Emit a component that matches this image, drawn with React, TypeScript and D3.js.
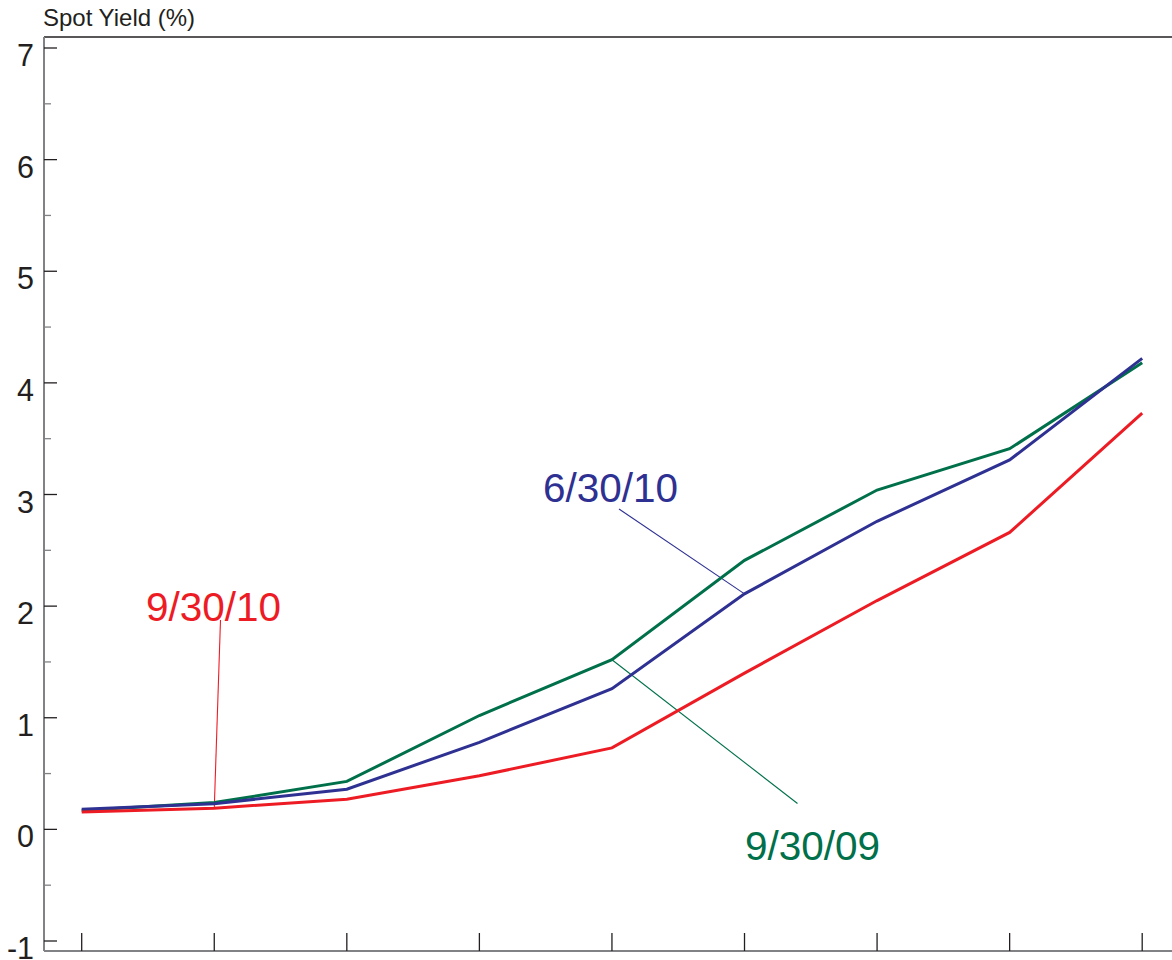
import React from "react";
import * as d3 from "d3";

// Maturity points (index positions along the x axis; no labels are printed)
const maturityIndex = [0, 1, 2, 3, 4, 5, 6, 7, 8];

// Spot yield curves (%)
const yields_9_30_09 = [0.17, 0.24, 0.43, 1.02, 1.52, 2.41, 3.04, 3.41, 4.18];
const yields_6_30_10 = [0.18, 0.23, 0.36, 0.78, 1.26, 2.11, 2.76, 3.31, 4.22];
const yields_9_30_10 = [0.155, 0.19, 0.27, 0.48, 0.73, 1.4, 2.05, 2.66, 3.73];

const yTickValues = [-1, 0, 1, 2, 3, 4, 5, 6, 7];
const yMinorValues = [-0.5, 0.5, 1.5, 2.5, 3.5, 4.5, 5.5, 6.5];

const seriesLabels = ["9/30/09", "6/30/10", "9/30/10"];
const seriesColors = ["#00704a", "#2e3192", "#ed1c24"];

// Label annotations: anchor on the curve (index) and text / leader start
const labelAnchorIndex = [4, 5, 1];
const labelTextPos = [
  { x: 745, y: 860, lx: 797.5, ly: 803.5 },
  { x: 543, y: 502, lx: 619, ly: 509 },
  { x: 146, y: 621, lx: 220.5, ly: 620 },
];

const W = 1172;
const H = 960;
const FONT = "'Liberation Sans', Arial, Helvetica, sans-serif";

export default function App() {
  const x = d3.scaleLinear().domain([0, 8]).range([81.7, 1142.2]);
  const y = d3.scaleLinear().domain([-1, 7]).range([941, 48]);
  const plotLeft = 44;
  const plotRight = 1172;
  const plotTop = 37;
  const axisY = 951;

  const line = d3
    .line<number>()
    .x((_, i) => x(maturityIndex[i]))
    .y((d) => y(d));

  const series = [yields_9_30_09, yields_6_30_10, yields_9_30_10];
  return (
    <svg
      width={W}
      height={H}
      style={{ position: "absolute", left: 0, top: 0, background: "#fff" }}
      fontFamily={FONT}
    >
      <rect x={0} y={0} width={W} height={H} fill="#fff" />
      {/* title */}
      <text x={43} y={26} fontSize={24} fill="#231f20">
        Spot Yield (%)
      </text>
      {/* top border */}
      <line x1={plotLeft} x2={plotRight} y1={plotTop} y2={plotTop} stroke="#231f20" strokeWidth={1.5} />
      {/* left axis */}
      <line x1={plotLeft} x2={plotLeft} y1={plotTop} y2={axisY} stroke="#808285" strokeWidth={2} />
      {/* bottom axis */}
      <line x1={plotLeft} x2={plotRight} y1={axisY} y2={axisY} stroke="#808285" strokeWidth={2} />
      {/* y major ticks and labels */}
      {yTickValues.map((v) => (
        <g key={"yt" + v}>
          <line x1={plotLeft} x2={57} y1={y(v)} y2={y(v)} stroke="#231f20" strokeWidth={1.3} />
          <text
            x={34}
            y={y(v) + 18}
            fontSize={30.5}
            textAnchor="end"
            fill="#231f20"
          >
            {v}
          </text>
        </g>
      ))}
      {yMinorValues.map((v) => (
        <line key={"ym" + v} x1={plotLeft} x2={51} y1={y(v)} y2={y(v)} stroke="#808285" strokeWidth={1.3} />
      ))}
      {/* x ticks */}
      {maturityIndex.map((i) => (
        <line key={"xt" + i} x1={x(i)} x2={x(i)} y1={933} y2={axisY} stroke="#231f20" strokeWidth={1.3} />
      ))}
      {/* leader lines */}
      {series.map((s, k) => {
        const ai = labelAnchorIndex[k];
        const p = labelTextPos[k];
        return (
          <line
            key={"ld" + k}
            x1={p.lx}
            y1={p.ly}
            x2={x(maturityIndex[ai])}
            y2={y(s[ai])}
            stroke={seriesColors[k]}
            strokeWidth={1.1}
          />
        );
      })}
      {/* curves */}
      {series.map((s, k) => (
        <path
          key={"s" + k}
          d={line(s) || ""}
          fill="none"
          stroke={seriesColors[k]}
          strokeWidth={3}
          strokeLinejoin="miter"
        />
      ))}
      {/* labels */}
      {seriesLabels.map((lab, k) => (
        <text
          key={"lb" + k}
          x={labelTextPos[k].x}
          y={labelTextPos[k].y}
          fontSize={40.5}
          fill={seriesColors[k]}
        >
          {lab}
        </text>
      ))}
    </svg>
  );
}
